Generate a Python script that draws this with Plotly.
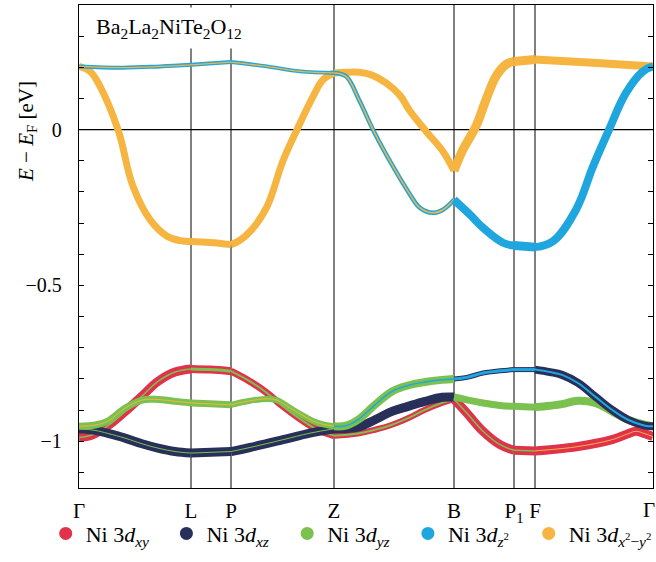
import plotly.graph_objects as go

# ---- k-path (cumulative path length, arbitrary units) ----
kpt_pos = [0.00, 1.12, 1.52, 2.55, 3.75, 4.35, 4.56, 5.74]
kpt_labels = ["Γ", "L", "P", "Z", "B", "P<sub>1</sub>", "F", "Γ"]

# ---- y ticks ----
ytick_vals = [0.3, 0.2, 0.1, 0.0, -0.1, -0.2, -0.3, -0.4, -0.5, -0.6,
              -0.7, -0.8, -0.9, -1.0, -1.1]
ytick_text = ["", "", "", "0", "", "", "", "", "−0.5", "", "", "", "", "−1", ""]

# ---- Ni eg bands (E - E_F, eV) ----
k_x2y2 = [0.00, 0.11, 0.21, 0.39, 0.54, 0.71, 0.88, 1.01, 1.12,
          1.31, 1.52, 1.61, 1.73, 1.88, 2.04, 2.18, 2.34, 2.44, 2.55,
          2.55, 2.67, 2.80, 2.93, 3.07, 3.21, 3.30, 3.47, 3.64, 3.75,
          3.75, 3.84, 3.97, 4.07, 4.17, 4.27, 4.35, 4.56, 5.14, 5.74]
e_x2y2 = [0.203, 0.187, 0.139, 0.000, -0.182, -0.289, -0.342, -0.356, -0.359,
          -0.362, -0.369, -0.355, -0.320, -0.247, -0.100, 0.000, 0.106, 0.160, 0.182,
          0.182, 0.184, 0.184, 0.175, 0.150, 0.110, 0.064, -0.005, -0.070, -0.132,
          -0.132, -0.064, 0.011, 0.096, 0.171, 0.209, 0.219, 0.225, 0.215, 0.203]

k_z2 = [0.00, 0.44, 0.81, 1.12, 1.52, 1.88, 2.21, 2.55,
        2.55, 2.67, 2.80, 2.94, 3.14, 3.30, 3.41, 3.54, 3.64, 3.75,
        3.75, 3.91, 4.04, 4.24, 4.35, 4.56, 4.74, 4.97, 5.14, 5.30, 5.47, 5.64, 5.74]
e_z2 = [0.203, 0.199, 0.203, 0.208, 0.217, 0.203, 0.187, 0.182,
        0.182, 0.171, 0.096, 0.000, -0.118, -0.203, -0.251, -0.267, -0.257, -0.225,
        -0.225, -0.273, -0.315, -0.363, -0.372, -0.377, -0.358, -0.257, -0.118, 0.000,
        0.118, 0.187, 0.203]

# ---- Ni t2g bands (E - E_F, eV) ----
k_t1 = [0.00, 0.13, 0.29, 0.46, 0.63, 0.79, 0.96, 1.12, 1.31, 1.52,
        1.71, 1.88, 2.04, 2.21, 2.38, 2.55, 2.79, 2.96, 3.13, 3.29,
        3.46, 3.63, 3.75, 3.88, 4.04, 4.21, 4.35, 4.56, 4.71, 4.99,
        5.33, 5.49, 5.57, 5.66, 5.74]
e_t1 = [-0.988, -0.980, -0.950, -0.905, -0.855, -0.808, -0.778, -0.768, -0.770, -0.775,
        -0.808, -0.845, -0.888, -0.928, -0.962, -0.982, -0.975, -0.963, -0.947, -0.926,
        -0.899, -0.877, -0.865, -0.910, -0.968, -1.011, -1.029, -1.031, -1.027, -1.017,
        -0.995, -0.976, -0.968, -0.976, -0.985]

k_t2 = [0.00, 0.16, 0.29, 0.46, 0.63, 0.79, 0.96, 1.12, 1.31, 1.52,
        1.71, 1.88, 1.98, 2.11, 2.21, 2.38, 2.55, 2.67, 2.79, 2.96,
        3.13, 3.29, 3.46, 3.63, 3.75, 3.88, 4.04, 4.21, 4.35, 4.56,
        4.71, 4.83, 4.99, 5.16, 5.33, 5.49, 5.66, 5.74]
e_t2 = [-0.952, -0.948, -0.935, -0.894, -0.868, -0.866, -0.872, -0.877, -0.880, -0.883,
        -0.870, -0.864, -0.868, -0.893, -0.912, -0.940, -0.952, -0.950, -0.931, -0.883,
        -0.840, -0.821, -0.810, -0.803, -0.800, -0.795, -0.781, -0.774, -0.770, -0.770,
        -0.778, -0.787, -0.813, -0.856, -0.899, -0.931, -0.950, -0.952]

k_t3 = [0.00, 0.16, 0.29, 0.46, 0.63, 0.79, 0.96, 1.12, 1.52,
        1.71, 2.04, 2.31, 2.55, 2.79, 2.96, 3.13, 3.29, 3.46, 3.63, 3.75,
        3.88, 4.04, 4.21, 4.35, 4.56, 4.71, 4.83, 4.99, 5.16, 5.33, 5.49, 5.66, 5.74]
e_t3 = [-0.960, -0.965, -0.975, -0.990, -1.008, -1.022, -1.033, -1.038, -1.033,
        -1.020, -0.995, -0.974, -0.960, -0.955, -0.931, -0.904, -0.888, -0.872, -0.859, -0.858,
        -0.867, -0.877, -0.885, -0.888, -0.891, -0.886, -0.881, -0.870, -0.877, -0.904,
        -0.931, -0.947, -0.952]

# ---- orbital colours & legend names ----
C_XY, C_XZ, C_YZ, C_Z2, C_X2Y2 = "#e0324a", "#28305a", "#7bc150", "#1fa6de", "#f5b540"
legend_items = [
    ("Ni 3<i>d</i><sub><i>xy</i></sub>", C_XY),
    ("Ni 3<i>d</i><sub><i>xz</i></sub>", C_XZ),
    ("Ni 3<i>d</i><sub><i>yz</i></sub>", C_YZ),
    ("Ni 3<i>d</i><sub><i>z</i><sup>2</sup></sub>", C_Z2),
    ("Ni 3<i>d</i><sub><i>x</i><sup>2</sup>−<i>y</i><sup>2</sup></sub>", C_X2Y2),
]

# fat-band styling per path segment (Γ-L, L-P, P-Z, Z-B, B-P1, P1-F, F-Γ):
# (outer colour, outer width, core colour, core width)
sty_t1 = [(C_XY, 9, C_YZ, 1.5), (C_XY, 8, C_YZ, 3), (C_XY, 7, C_YZ, 2),
          (C_XY, 6, C_YZ, 2), (C_XY, 9, C_YZ, 1.5), (C_XY, 9, C_YZ, 1.5),
          (C_XY, 9, C_X2Y2, 1)]
sty_t3 = [(C_XZ, 9, C_YZ, 1), (C_XZ, 9, C_YZ, 1), (C_XZ, 9, C_YZ, 1),
          (C_XZ, 9, None, 0), (C_YZ, 7, None, 0), (C_YZ, 7, None, 0),
          (C_YZ, 8, None, 0)]
sty_t2 = [(C_YZ, 7, C_X2Y2, 1), (C_YZ, 7, C_X2Y2, 1), (C_YZ, 6, C_X2Y2, 1),
          (C_YZ, 8, C_Z2, 1.5), (C_XZ, 5, C_Z2, 3), (C_XZ, 5, C_Z2, 3),
          (C_XZ, 8, C_Z2, 2)]
sty_z2 = [(C_Z2, 4, C_X2Y2, 1.3), (C_Z2, 4, C_X2Y2, 1.3), (C_Z2, 4, C_X2Y2, 1.3),
          (C_Z2, 4.5, C_X2Y2, 1.5), (C_Z2, 8, None, 0), (C_Z2, 9, None, 0),
          (C_Z2, 8, None, 0)]
sty_x2y2 = [(C_X2Y2, 7, None, 0), (C_X2Y2, 7, None, 0), (C_X2Y2, 7, None, 0),
            (C_X2Y2, 7, None, 0), (C_X2Y2, 9, None, 0), (C_X2Y2, 9, None, 0),
            (C_X2Y2, 8, None, 0)]

SMOOTH = 1.1
fig = go.Figure()


def add_band(k, e, styles):
    """Draw one band, split at the high-symmetry points."""
    eps = 1e-9
    idx0 = 0
    for seg, (c_out, w_out, c_in, w_in) in enumerate(styles):
        k_lo, k_hi = kpt_pos[seg], kpt_pos[seg + 1]
        # last occurrence of k_lo (duplicated points mark kinks)
        start = None
        for i in range(idx0, len(k)):
            if abs(k[i] - k_lo) < eps:
                start = i
        pts = []
        i = start
        while i < len(k) and k[i] <= k_hi + eps:
            pts.append(i)
            if abs(k[i] - k_hi) < eps:
                break
            i += 1
        idx0 = pts[-1]
        xs = [k[j] for j in pts]
        ys = [e[j] for j in pts]
        fig.add_trace(go.Scatter(x=xs, y=ys, mode="lines", showlegend=False,
                                 hoverinfo="skip",
                                 line=dict(color=c_out, width=w_out, shape="spline",
                                           smoothing=SMOOTH)))
        if c_in is not None:
            fig.add_trace(go.Scatter(x=xs, y=ys, mode="lines", showlegend=False,
                                     hoverinfo="skip",
                                     line=dict(color=c_in, width=w_in, shape="spline",
                                               smoothing=SMOOTH)))


add_band(k_t1, e_t1, sty_t1)
add_band(k_t3, e_t3, sty_t3)
add_band(k_t2, e_t2, sty_t2)
add_band(k_x2y2, e_x2y2, sty_x2y2)
add_band(k_z2, e_z2, sty_z2)

FONT = "Times New Roman, Liberation Serif, serif"

# one single-entry legend per orbital, evenly spaced in a row below the axis
PLOT_L, PLOT_W, PLOT_H = 79, 574, 483
legend_centers_px = [65.7, 186.4, 307.2, 427.9, 548.7]
legend_layouts = {}
for i, ((name, col), cx) in enumerate(zip(legend_items, legend_centers_px)):
    lname = "legend" if i == 0 else f"legend{i + 1}"
    fig.add_trace(go.Scatter(x=[None], y=[None], mode="markers", name=name,
                             legend=lname,
                             marker=dict(color=col, size=13, symbol="circle")))
    legend_layouts[lname] = dict(
        x=(cx - 20 - PLOT_L) / PLOT_W, xanchor="left",
        y=-0.051, yanchor="top", orientation="h",
        font=dict(family=FONT, size=22), itemsizing="trace",
        bgcolor="rgba(0,0,0,0)", borderwidth=0)

shapes = []
for kp in kpt_pos[1:-1]:
    shapes.append(dict(type="line", xref="x", yref="paper", x0=kp, x1=kp, y0=0, y1=1,
                       line=dict(color="#4a4a4a", width=1.4), layer="below"))
shapes.append(dict(type="line", xref="paper", yref="y", x0=0, x1=1, y0=0, y1=0,
                   line=dict(color="black", width=1.3), layer="below"))

# the closing Γ label sits flush with the right edge of the figure
tick_text_shown = kpt_labels[:-1] + [""]

fig.update_layout(
    width=656, height=562,
    margin=dict(l=PLOT_L, r=3, t=5, b=74, autoexpand=False),
    paper_bgcolor="white", plot_bgcolor="white",
    font=dict(family=FONT, size=20, color="black"),
    shapes=shapes,
    showlegend=True,
    annotations=[
        dict(text="Ba<sub>2</sub>La<sub>2</sub>NiTe<sub>2</sub>O<sub>12</sub>",
             xref="paper", yref="paper", x=(89 - 79) / 574, y=1 - 2 / 483,
             xanchor="left", yanchor="top", showarrow=False, bgcolor="white",
             borderpad=6, font=dict(family=FONT, size=22)),
        dict(text="<i>E</i> − <i>E</i><sub>F</sub> [eV]", textangle=-90,
             xref="paper", yref="paper", x=(27 - 79) / 574, y=(488 - 132) / 483,
             xanchor="center", yanchor="middle", showarrow=False,
             font=dict(family=FONT, size=21)),
        dict(text=kpt_labels[-1], xref="paper", yref="paper",
             x=(656 - 79) / 574, y=(488 - 510) / 483, xanchor="right",
             yanchor="middle", showarrow=False, borderpad=0,
             font=dict(family=FONT, size=21)),
    ],
    **legend_layouts,
)
fig.update_xaxes(range=[kpt_pos[0], kpt_pos[-1]], tickvals=kpt_pos,
                 ticktext=tick_text_shown,
                 ticks="", showgrid=False, zeroline=False, showline=True, mirror=True,
                 linecolor="black", linewidth=1.3, ticklabelstandoff=4,
                 tickfont=dict(family=FONT, size=21), automargin=False)
fig.update_yaxes(range=[-1.15, 0.4], tickvals=ytick_vals, ticktext=ytick_text,
                 ticks="inside", ticklen=5, tickwidth=1.2, tickcolor="black",
                 showgrid=False, zeroline=False, showline=True, mirror="ticks",
                 linecolor="black", linewidth=1.3, ticklabelstandoff=12,
                 tickfont=dict(family=FONT, size=20), automargin=False)

fig.write_html("out.html")
